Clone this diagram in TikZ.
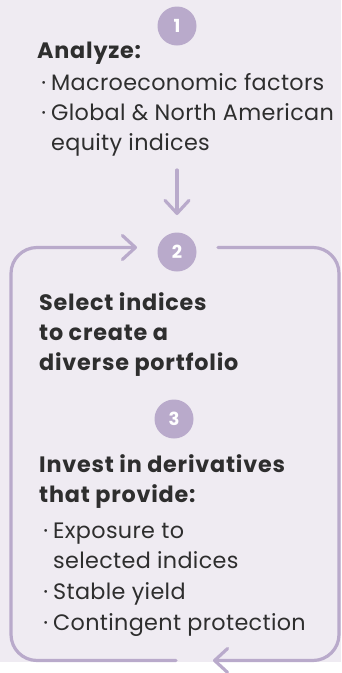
\documentclass[tikz,border=0pt]{standalone}
\usepackage{fontspec}
\setmainfont{Poppins}
\newfontfamily\bodyf{Poppins}[LetterSpace=1.5]
\newfontfamily\headf{Poppins}[LetterSpace=3.5]
\usetikzlibrary{arrows.meta}
\definecolor{bgc}{HTML}{EFEBF2}
\definecolor{lav}{HTML}{B9AACB}
\definecolor{txt}{HTML}{2E2E2E}
\newcommand\mybul{\llap{·\hspace{5pt}}}
\begin{document}
\begin{tikzpicture}[x=1pt,y=-1pt,
  body/.style={anchor=base west, inner sep=0pt, text=txt, font=\bodyf\fontsize{22.3}{26}\selectfont},
  head/.style={anchor=base west, inner sep=0pt, text=txt, font=\headf\fontsize{22.3}{26}\selectfont\bfseries},
  num/.style={circle, fill=lav, minimum size=39pt, inner sep=0pt, text=white, font=\fontsize{18}{20}\selectfont\bfseries},
  flow/.style={draw=lav, line width=3.2pt, line cap=round, line join=round, rounded corners=26pt},
  tip/.style={-{Straight Barb[length=13pt,width=24pt,line cap=round,line join=round]}}
]
\fill[bgc] (0,0) rectangle (341,662);
\useasboundingbox (0,0) rectangle (341,673);

\node[num] (c1) at (177,26) {1};
\node[head] (h1) at (37,58) {Analyze:};
\node[body] (b11) at (51,90) {\mybul Macroeconomic factors};
\node[body] (b12) at (51,120) {\mybul Global \& North American};
\node[body] (b13) at (51,150) {equity indices};
\coordinate (d1) at (177,170);
\coordinate (d2) at (177,215);
\draw[flow,tip] (d1) -- (d2);

\node[num] (c2) at (177,252) {2};
\node[head] (h2a) at (39,310) {Select indices};
\node[head] (h2b) at (39,340) {to create a};
\node[head] (h2c) at (39,370) {diverse portfolio};

\node[num] (c3) at (174,419) {3};
\node[head] (h3a) at (39,472) {Invest in derivatives};
\node[head] (h3b) at (39,502) {that provide:};
\node[body] (b31) at (53,538) {\mybul Exposure to};
\node[body] (b32) at (53,568) {selected indices};
\node[body] (b33) at (53,599) {\mybul Stable yield};
\node[body] (b34) at (53,630) {\mybul Contingent protection};

\coordinate (L1) at (176,660.5);
\coordinate (BL) at (11,660.5);
\coordinate (TL) at (11,247.5);
\coordinate (T1) at (137,247.5);
\coordinate (R1) at (218,247.5);
\coordinate (TR) at (339,247.5);
\coordinate (BR) at (339,660.5);
\coordinate (R2) at (213,660.5);
\draw[flow,tip] (L1) -- (BL) -- (TL) -- (T1);
\draw[flow,tip] (R1) -- (TR) -- (BR) -- (R2);
\end{tikzpicture}
\end{document}
